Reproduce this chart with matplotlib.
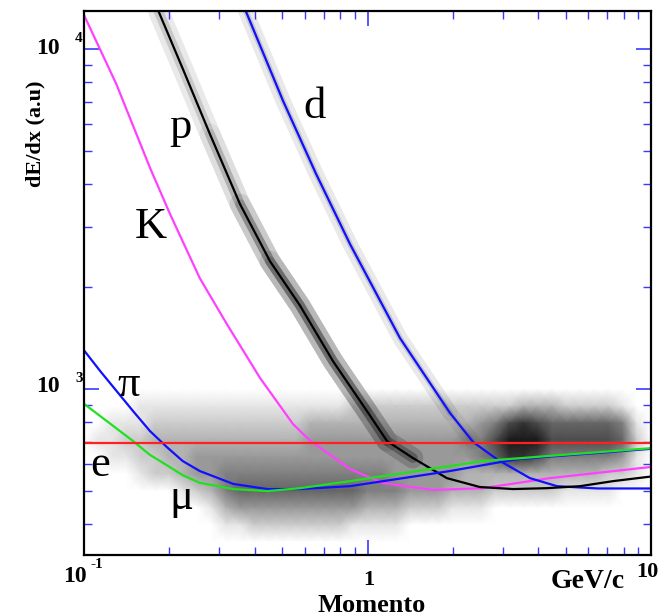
import numpy as np
import matplotlib
matplotlib.use("Agg")
import matplotlib.pyplot as plt
from matplotlib.collections import LineCollection
from matplotlib.colors import LinearSegmentedColormap
from matplotlib.ticker import LogLocator, NullFormatter

# ---------------- data ----------------
e_p = [0.100, 0.114, 0.149, 0.171, 0.196, 0.223, 0.256, 0.336, 0.443, 0.578, 0.868, 1.495, 2.55, 4.40, 10.0]
e_dedx = [905, 833, 703, 640, 597, 558, 530, 508, 501, 511, 536, 574, 614, 636, 670]

pi_p = [0.100, 0.114, 0.149, 0.171, 0.196, 0.223, 0.256, 0.336, 0.443, 0.578, 0.868, 1.955, 3.37, 5.76, 10.0]
pi_dedx = [1300, 1130, 861, 752, 675, 614, 574, 526, 508, 508, 518, 574, 622, 644, 667]

k_p = [0.100, 0.130, 0.171, 0.201, 0.256, 0.319, 0.418, 0.546, 0.627, 0.867, 1.134, 1.70, 2.55, 4.40, 10.0]
k_dedx = [12590, 7890, 4470, 3275, 2120, 1553, 1077, 789, 705, 582, 529, 505, 511, 547, 590]

p_p = [0.183, 0.225, 0.278, 0.355, 0.453, 0.578, 0.755, 0.996, 1.172, 1.445, 1.905, 2.49, 3.26, 4.29, 5.62, 7.35, 10.0]
p_dedx = [12940, 8600, 5625, 3500, 2376, 1760, 1209, 861, 703, 627, 547, 515, 508, 511, 518, 536, 553]
p_band = [2, 2, 3, 5, 7, 7, 7, 6, 4, 0, 0, 0, 0, 0, 0, 0, 0]

d_p = [0.372, 0.504, 0.658, 0.868, 1.302, 1.955, 2.36, 2.86, 3.74, 4.66, 6.5, 10.0]
d_dedx = [12940, 7030, 4300, 2667, 1412, 850, 698, 622, 547, 518, 510, 510]
d_band = [2, 2, 2, 2, 2, 1, 0, 0, 0, 0, 0, 0]

ref_p = [0.1, 10.0]
ref_dedx = [693, 693]

# density of the minimum-ionising cloud (0..9), nodes every 0.05 decade
# columns: log10(p) = -1.00 ... 1.00 ; rows: log10(dE/dx) = 3.00 ... 2.50
cloud_rows = [
    "0000000000" "0000000000" "0000000000" "0000000000" "0",
    "0000111111" "1111111112" "2222222222" "2333222210" "0",
    "0011122222" "2222223333" "3333333345" "7876666651" "0",
    "0112233333" "3333334444" "4444444557" "9997777762" "0",
    "0011223344" "4444444444" "4444444456" "8875555541" "0",
    "0000122344" "5555555555" "5544444333" "3333333221" "0",
    "0000000123" "5666666666" "5554443332" "2222111100" "0",
    "0000000001" "3444444444" "3332221110" "0000000000" "0",
    "0000000000" "1122222221" "1110000000" "0000000000" "0",
    "0000000000" "0000000000" "0000000000" "0000000000" "0",
    "0000000000" "0000000000" "0000000000" "0000000000" "0",
]
cloud_logp = np.round(np.arange(-1.0, 1.0001, 0.05), 3)
cloud_logdedx = np.round(np.arange(3.0, 2.4999, -0.05), 3)

labels = ["p", "d", "K", "\u03c0", "e", "\u03bc"]
label_p = [0.218, 0.653, 0.172, 0.144, 0.114, 0.220]
label_dedx = [5470, 6270, 2780, 954, 555, 444]

# ---------------- figure ----------------
W, H = 666, 616
fig = plt.figure(figsize=(W / 100, H / 100), dpi=100)
L, R, T, B = 84, 651, 11, 555
ax = fig.add_axes([L / W, 1 - B / H, (R - L) / W, (B - T) / H])
ax.set_xscale("log")
ax.set_yscale("log")
ax.set_xlim(0.1, 10)
ax.set_ylim(325, 12940)

# cloud (white -> black, opaque)
cloud_cmap = LinearSegmentedColormap.from_list("cloud", ["#ffffff", "#000000"])
Z = np.array([[int(c) for c in row] for row in cloud_rows], dtype=float)
X, Y = np.meshgrid(10 ** cloud_logp, 10 ** cloud_logdedx)
ax.pcolormesh(X, Y, Z, shading="gouraud", cmap=cloud_cmap, vmin=0, vmax=10, zorder=1)


def band(px, py, dark, lw_out, lw_in, a_out, a_in):
    pts = np.column_stack([px, py])
    for k in range(1, int(max(dark)) + 1):
        idx = [i for i in range(len(px)) if dark[i] >= k]
        if not idx:
            continue
        last = min(idx[-1] + 1, len(px) - 1)
        run = pts[idx[0]:last + 1]
        for lw_, a_ in ((lw_out, a_out), (lw_in, a_in)):
            ax.add_collection(LineCollection([run], colors=[(0, 0, 0, a_)], linewidths=lw_,
                                             capstyle="round", joinstyle="round", zorder=2))


band(p_p, p_dedx, p_band, 15, 7, 0.045, 0.07)
band(d_p, d_dedx, d_band, 11, 4, 0.045, 0.07)

lw = 1.6
ax.plot(k_p, k_dedx, color="#ff40ff", lw=lw, zorder=3)
ax.plot(d_p, d_dedx, color="#1010ff", lw=lw, zorder=3)
ax.plot(p_p, p_dedx, color="black", lw=lw, zorder=3)
ax.plot(pi_p, pi_dedx, color="#1010ff", lw=lw, zorder=3)
ax.plot(e_p, e_dedx, color="#20e020", lw=lw, zorder=3)
ax.plot(ref_p, ref_dedx, color="#ff2020", lw=lw, zorder=4)

serif = "Liberation Serif"
for s, x, y in zip(labels, label_p, label_dedx):
    ax.text(x, y, s, fontsize=32, family=serif, ha="center", va="baseline", zorder=5)

# axes styling
for sp in ax.spines.values():
    sp.set_linewidth(1.6)
    sp.set_color("black")
    sp.set_zorder(6)
ax.xaxis.set_major_locator(LogLocator(base=10, numticks=10))
ax.xaxis.set_minor_locator(LogLocator(base=10, subs=np.arange(2, 10), numticks=20))
ax.yaxis.set_major_locator(LogLocator(base=10, numticks=10))
ax.yaxis.set_minor_locator(LogLocator(base=10, subs=np.arange(2, 10), numticks=20))
ax.xaxis.set_minor_formatter(NullFormatter())
ax.yaxis.set_minor_formatter(NullFormatter())
ax.tick_params(which="both", direction="in", top=True, right=True, color="#3a3aff",
               labelbottom=False, labelleft=False)
ax.tick_params(which="major", length=11, width=1.2)
ax.tick_params(which="minor", length=6, width=1.0)


# tick labels and titles (bold serif)
def ftext(x, y, s, size, **kw):
    fig.text(x / W, 1 - y / H, s, fontsize=size, family=serif, weight="bold",
             ha="center", va="center", **kw)


ftext(48, 48, "10", 17)
ftext(79, 39, "4", 11)
ftext(48, 387, "10", 17)
ftext(79, 378, "3", 11)
ftext(35, 134, "dE/dx (a.u)", 16, rotation=90)
ftext(75, 576, "10", 17)
ftext(97, 565, "-1", 11)
ftext(369, 580, "1", 16)
ftext(372, 605, "Momento", 19)
ftext(588, 582, "GeV/c", 20)
ftext(647, 572, "10", 16)

fig.savefig("out.png", dpi=100)
